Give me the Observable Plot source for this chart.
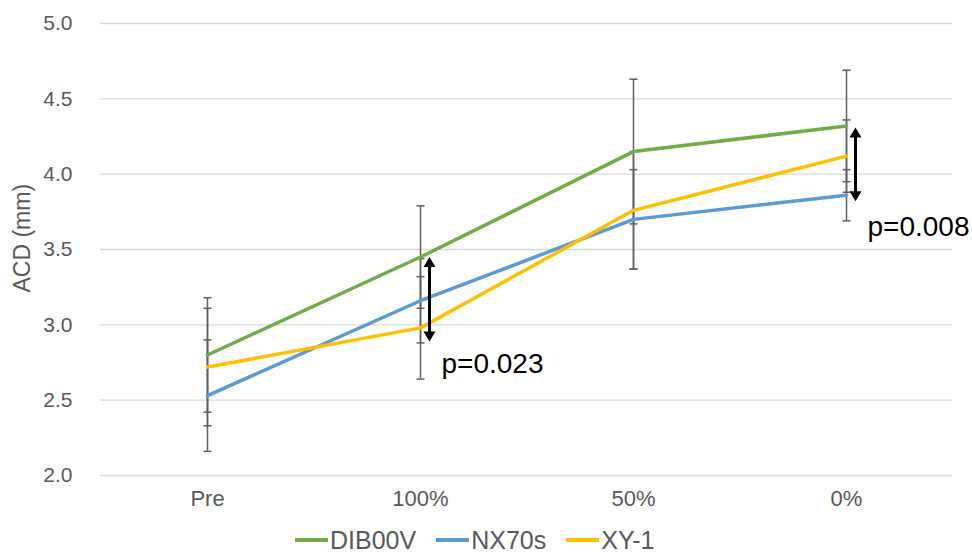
<!DOCTYPE html>
<html>
<head>
<meta charset="utf-8">
<script src="https://cdn.jsdelivr.net/npm/d3@7"></script>
<script src="https://cdn.jsdelivr.net/npm/@observablehq/plot@0.6"></script>
<style>
  body { margin: 0; background: #fff; font-family: "Liberation Sans", Arial, sans-serif; }
  #legend { display: flex; align-items: center; height: 30px; padding-top: 5px; padding-left: 295px; color: #595959; font-size: 25px; line-height: 28px; }
  .item { display: flex; align-items: center; margin-right: 20px; }
  .sw { width: 33px; height: 3.5px; margin-right: 2px; }
</style>
</head>
<body>
<div id="chart"></div>
<div id="legend"></div>
<script>
const categories = ["Pre", "100%", "50%", "0%"];
const series = ["DIB00V", "NX70s", "XY-1"];
const dib = [2.80, 3.45, 4.15, 4.32];
const nx = [2.53, 3.16, 3.70, 3.86];
const xy = [2.72, 2.98, 3.76, 4.12];
const dibErr = [0.38, 0.34, 0.48, 0.37];
const nxErr = [0.37, 0.28, 0.33, 0.17];
const xyErr = [0.39, 0.34, 0.39, 0.24];
const colors = ["#70ad47", "#5b9bd5", "#ffc000"];
const yTicks = [2.0, 2.5, 3.0, 3.5, 4.0, 4.5, 5.0];
const arrowCats = ["100%", "0%"];
const arrowTop = [3.45, 4.31];
const arrowBottom = [2.89, 3.82];
const pCats = ["100%", "0%"];
const pY = [2.74, 3.65];
const pText = ["p=0.023", "p=0.008"];

const means = [dib, nx, xy];
const errs = [dibErr, nxErr, xyErr];
const data = [];
series.forEach((s, si) => categories.forEach((c, ci) => data.push({
  series: s, cat: c, v: means[si][ci], lo: means[si][ci] - errs[si][ci], hi: means[si][ci] + errs[si][ci]
})));
const arrows = arrowCats.map((c, i) => ({cat: c, top: arrowTop[i], bottom: arrowBottom[i]}));
const plabels = pCats.map((c, i) => ({cat: c, y: pY[i], text: pText[i]}));

const capSymbol = {draw(ctx, size) { const r = Math.sqrt(size / Math.PI); ctx.moveTo(-r, 0); ctx.lineTo(r, 0); }};
const triUp = {draw(ctx, size) { const r = Math.sqrt(size / Math.PI); ctx.moveTo(0, 0); ctx.lineTo(1.2 * r, 2 * r); ctx.lineTo(-1.2 * r, 2 * r); ctx.closePath(); }};
const triDown = {draw(ctx, size) { const r = Math.sqrt(size / Math.PI); ctx.moveTo(0, 0); ctx.lineTo(1.2 * r, -2 * r); ctx.lineTo(-1.2 * r, -2 * r); ctx.closePath(); }};

const errColor = "#5f5f5f";
const chart = Plot.plot({
  width: 972,
  height: 520,
  marginLeft: 100,
  marginRight: 20,
  marginTop: 23,
  marginBottom: 45,
  style: {fontFamily: "Liberation Sans, Arial, sans-serif", color: "#595959", background: "#fff"},
  x: {type: "point", domain: categories, padding: 0.5},
  y: {domain: [2, 5]},
  color: {domain: series, range: colors},
  marks: [
    Plot.ruleY(yTicks, {stroke: "#d9d9d9", strokeWidth: 1.3}),
    Plot.axisY(yTicks, {tickSize: 0, tickPadding: 28, fontSize: 21, tickFormat: d => d.toFixed(1), label: null}),
    Plot.axisX({tickSize: 0, tickPadding: 15, fontSize: 22, label: null}),
    Plot.text(["ACD (mm)"], {frameAnchor: "left", rotate: -90, dx: -78, dy: 43, fontSize: 23, fill: "#595959"}),
    Plot.ruleX(data, {x: "cat", y1: "lo", y2: "hi", stroke: errColor, strokeWidth: 1.5}),
    Plot.dot(data, {x: "cat", y: "lo", symbol: capSymbol, r: 4, stroke: errColor, strokeWidth: 1.5}),
    Plot.dot(data, {x: "cat", y: "hi", symbol: capSymbol, r: 4, stroke: errColor, strokeWidth: 1.5}),
    Plot.line(data, {x: "cat", y: "v", z: "series", stroke: "series", strokeWidth: 3.5}),
    Plot.ruleX(arrows, {x: "cat", y1: "top", y2: "bottom", dx: 9, stroke: "black", strokeWidth: 3, insetTop: 6, insetBottom: 6}),
    Plot.dot(arrows, {x: "cat", y: "top", dx: 9, symbol: triUp, r: 5, fill: "black", stroke: "none"}),
    Plot.dot(arrows, {x: "cat", y: "bottom", dx: 9, symbol: triDown, r: 5, fill: "black", stroke: "none"}),
    Plot.text(plabels, {x: "cat", y: "y", text: "text", dx: 21, textAnchor: "start", fontSize: 28, fill: "black"})
  ]
});
document.getElementById("chart").appendChild(chart);

const legend = document.getElementById("legend");
series.forEach((s, i) => {
  const item = document.createElement("div");
  item.className = "item";
  const sw = document.createElement("div");
  sw.className = "sw";
  sw.style.background = colors[i];
  const t = document.createElement("span");
  t.textContent = s;
  item.appendChild(sw);
  item.appendChild(t);
  legend.appendChild(item);
});
</script>
</body>
</html>
